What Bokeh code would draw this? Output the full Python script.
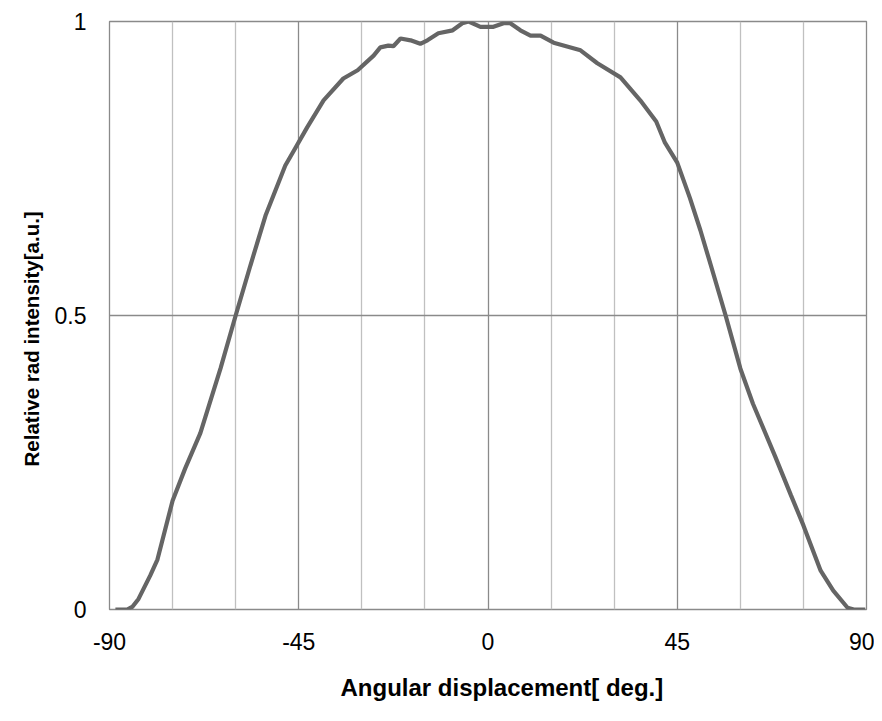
from bokeh.plotting import figure
from bokeh.models import FixedTicker, CustomJSTickFormatter, Range1d, Title
from bokeh.embed import file_html
from bokeh.resources import INLINE

angle = [-88.6, -85.8, -84.5, -83.1, -80.3, -78.6, -75.0, -72.0, -68.4, -63.6,
         -60.0, -56.5, -52.9, -48.2, -45.8, -43.0, -39.1, -34.4, -31.0, -27.2,
         -25.6, -23.7, -22.5, -20.8, -18.4, -16.1, -14.4, -11.8, -8.4, -6.1,
         -4.6, -1.8, 1.3, 3.7, 5.3, 7.7, 10.1, 12.5, 15.6, 22.0,
         26.0, 31.5, 36.2, 40.0, 42.0, 45.0, 48.0, 50.5, 53.0, 56.5,
         60.0, 63.0, 68.3, 72.0, 75.0, 79.1, 82.1, 85.5, 87.0, 89.7]
intensity = [0.0, 0.0, 0.005, 0.018, 0.058, 0.085, 0.185, 0.24, 0.30, 0.41,
             0.50, 0.585, 0.67, 0.755, 0.785, 0.82, 0.866, 0.903, 0.917, 0.942,
             0.956, 0.959, 0.958, 0.971, 0.968, 0.962, 0.968, 0.98, 0.985, 0.997,
             1.0, 0.991, 0.991, 0.997, 0.997, 0.985, 0.976, 0.976, 0.964, 0.951,
             0.929, 0.905, 0.866, 0.83, 0.795, 0.76, 0.70, 0.645, 0.585, 0.50,
             0.41, 0.35, 0.26, 0.195, 0.143, 0.066, 0.032, 0.003, 0.0, 0.0]

x_major = [-90, -45, 0, 45, 90]
x_minor = [-75, -60, -30, -15, 15, 30, 60, 75]
y_ticks = [0, 0.5, 1]

x_label = "Angular displacement[ deg.]"
y_label = "Relative rad intensity[a.u.]"

FONT = "Liberation Sans"

p = figure(width=874, height=721, output_backend="svg", toolbar_location=None,
           x_range=Range1d(-90, 90), y_range=Range1d(0, 1),
           min_border_left=109, min_border_right=8, min_border_top=21,
           min_border_bottom=112)

p.line(angle, intensity, line_color="#656565", line_width=4.2)

fmt = CustomJSTickFormatter(code="return tick.toString();")

p.xaxis.ticker = FixedTicker(ticks=x_major, minor_ticks=x_minor)
p.yaxis.ticker = FixedTicker(ticks=y_ticks)
p.xaxis.formatter = fmt
p.yaxis.formatter = fmt

for ax in (p.xaxis, p.yaxis):
    ax.axis_line_color = None
    ax.major_tick_line_color = None
    ax.minor_tick_line_color = None
    ax.major_tick_out = 0
    ax.major_tick_in = 0
    ax.minor_tick_out = 0
    ax.major_label_text_font = FONT
    ax.major_label_text_font_size = "23px"
    ax.major_label_text_color = "#000000"

p.xaxis.major_label_standoff = 23
p.yaxis.major_label_standoff = 23

# axis titles, placed off-centre like the reference
x_title = Title(text=x_label, align="left", offset=231, standoff=38,
                text_font=FONT, text_font_style="bold", text_font_size="24px",
                text_color="#000000", text_line_height=0.9,
                vertical_align="bottom")
y_title = Title(text=y_label, align="left", offset=143, standoff=18,
                text_font=FONT, text_font_style="bold", text_font_size="20.5px",
                text_color="#000000")
p.add_layout(x_title, "below")
p.add_layout(y_title, "left")

p.xgrid.grid_line_color = "#8a8a8a"
p.xgrid.grid_line_width = 1.3
p.xgrid.minor_grid_line_color = "#c0c0c0"
p.xgrid.minor_grid_line_width = 1.3
p.ygrid.grid_line_color = "#8a8a8a"
p.ygrid.grid_line_width = 1.3

p.outline_line_color = "#8a8a8a"
p.outline_line_width = 1.3
p.background_fill_color = "white"
p.border_fill_color = "white"

open("out.html", "w").write(file_html(p, INLINE))
